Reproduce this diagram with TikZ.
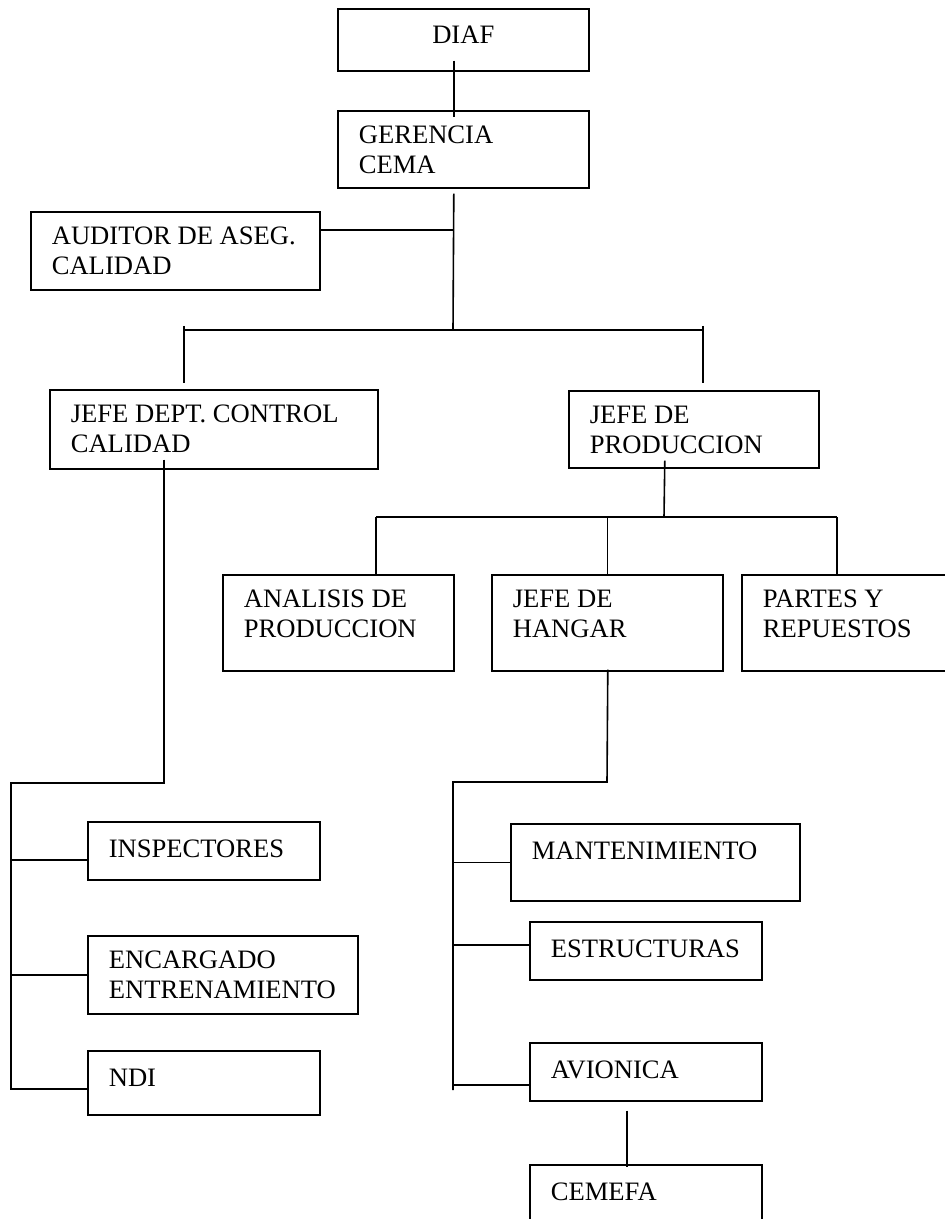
\documentclass[tikz,border=0pt]{standalone}
\usepackage{fontspec}
\setmainfont{Liberation Serif}
\usetikzlibrary{positioning,calc}

\begin{document}
\begin{tikzpicture}[x=0.5pt,y=-0.5pt,line width=0.8pt,
    box/.style 2 args={draw,anchor=north west,inner sep=0pt,
      minimum width=#1,minimum height=#2},
    lbl/.style={font=\fontsize{13.3}{15}\selectfont,inner sep=0pt,align=left,
      execute at begin node=\strut,below right=7.5pt and 10.5pt of #1.north west}]
      \path[use as bounding box] (0,0) rectangle (945,1219);
      \clip (0,0) rectangle (945,1219);

      % boxes
      \node[box={125.5pt}{31pt}] (diaf) at (337,8) {};
      \node[box={125.5pt}{38.5pt}] (gerencia) at (337,110) {};
      \node[box={144.5pt}{39pt}] (auditor) at (30,211) {};
      \node[box={164pt}{39.5pt}] (jefecc) at (49,389) {};
      \node[box={125pt}{38.5pt}] (jefeprod) at (568,390) {};
      \node[box={115.5pt}{48pt}] (analisis) at (222,574) {};
      \node[box={115.5pt}{48pt}] (hangar) at (491,574) {};
      \node[box={120pt}{48pt}] (partes) at (741,574) {};
      \node[box={116pt}{29pt}] (inspect) at (87,821) {};
      \node[box={135pt}{39pt}] (encarg) at (87,935) {};
      \node[box={116pt}{32pt}] (ndi) at (87,1050) {};
      \node[box={144.5pt}{38.5pt}] (mant) at (510,823) {};
      \node[box={116pt}{29pt}] (estruct) at (529,921) {};
      \node[box={116pt}{29pt}] (avion) at (529,1042) {};
      \node[box={116pt}{40pt}] (cemefa) at (529,1164) {};

      % texts
      \node[font=\fontsize{13.3}{15}\selectfont,inner sep=0pt,anchor=base]
        (diaf-t) at ($(diaf.north)+(0,36)$) {DIAF};
      \node[lbl=gerencia] (gerencia-t) {GERENCIA\\CEMA};
      \node[lbl=auditor] (auditor-t) {AUDITOR DE ASEG.\\CALIDAD};
      \node[lbl=jefecc] (jefecc-t) {JEFE DEPT. CONTROL\\CALIDAD};
      \node[lbl=jefeprod] (jefeprod-t) {JEFE DE\\PRODUCCION};
      \node[lbl=analisis] (analisis-t) {ANALISIS DE\\PRODUCCION};
      \node[lbl=hangar] (hangar-t) {JEFE DE\\HANGAR};
      \node[lbl=partes] (partes-t) {PARTES Y\\REPUESTOS};
      \node[lbl=inspect] (inspect-t) {INSPECTORES};
      \node[lbl=encarg] (encarg-t) {ENCARGADO\\ENTRENAMIENTO};
      \node[lbl=ndi] (ndi-t) {NDI};
      \node[lbl=mant] (mant-t) {MANTENIMIENTO};
      \node[lbl=estruct] (estruct-t) {ESTRUCTURAS};
      \node[lbl=avion] (avion-t) {AVIONICA};
      \node[lbl=cemefa] (cemefa-t) {CEMEFA};

      % junctions
      \coordinate (top) at (453,330);
      \coordinate (barl) at (184,330);
      \coordinate (barr) at (703,330);
      \coordinate (aud) at ($(auditor.east)+(0,-21)$);
      \coordinate (ccj) at (164,783);
      \coordinate (ccl) at (11,783);
      \coordinate (ccb) at (11,1090);
      \coordinate (pj) at (664,517);
      \coordinate (pl) at (376,517);
      \coordinate (pr) at (837,517);
      \coordinate (hj) at (607,782);
      \coordinate (hl) at (453,782);
      \coordinate (hb) at (453,1090);

      % upper part
      \draw ($(diaf.south)+(-9.5,-11)$) -- ($(gerencia.north)+(-9.5,7)$);
      \draw ($(gerencia.south)+(-9.5,5)$) -- (top);
      \draw (aud) -- (aud -| top);
      \draw (barl) -- (barr);
      \draw ($(barl)+(0,-4)$) -- ($(barl |- jefecc.north)+(0,-6)$);
      \draw ($(barr)+(0,-4)$) -- ($(barr |- jefeprod.north)+(0,-7)$);

      % control calidad
      \draw ($(jefecc.south -| ccj)+(0,-10)$) -- (ccj) -- (ccl) -- (ccb);
      \draw ($(inspect.west)+(0,9)$) -- ($(inspect.west -| ccl)+(0,9)$);
      \draw (encarg.west) -- (encarg.west -| ccl);
      \draw ($(ndi.west)+(0,6)$) -- ($(ndi.west -| ccl)+(0,6)$);

      % produccion
      \draw ($(jefeprod.south)+(-29,-8)$) -- (pj);
      \draw (pl) -- (pr);
      \draw (pl) -- (pl |- analisis.north);
      \draw (hangar.north |- pl) -- (hangar.north);
      \draw (pr) -- (pr |- partes.north);

      % hangar
      \draw ($(hangar.south)+(0.5,-2)$) -- (hj) -- (hl) -- (hb);
      \draw (mant.west) -- (mant.west -| hl);
      \draw ($(estruct.west)+(0,-6)$) -- ($(estruct.west -| hl)+(0,-6)$);
      \draw ($(avion.west)+(0,13)$) -- ($(avion.west -| hl)+(0,13)$);
      \draw ($(avion.south)+(-19,9)$) -- ($(cemefa.north)+(-19,3)$);
    \end{tikzpicture}
\end{document}
